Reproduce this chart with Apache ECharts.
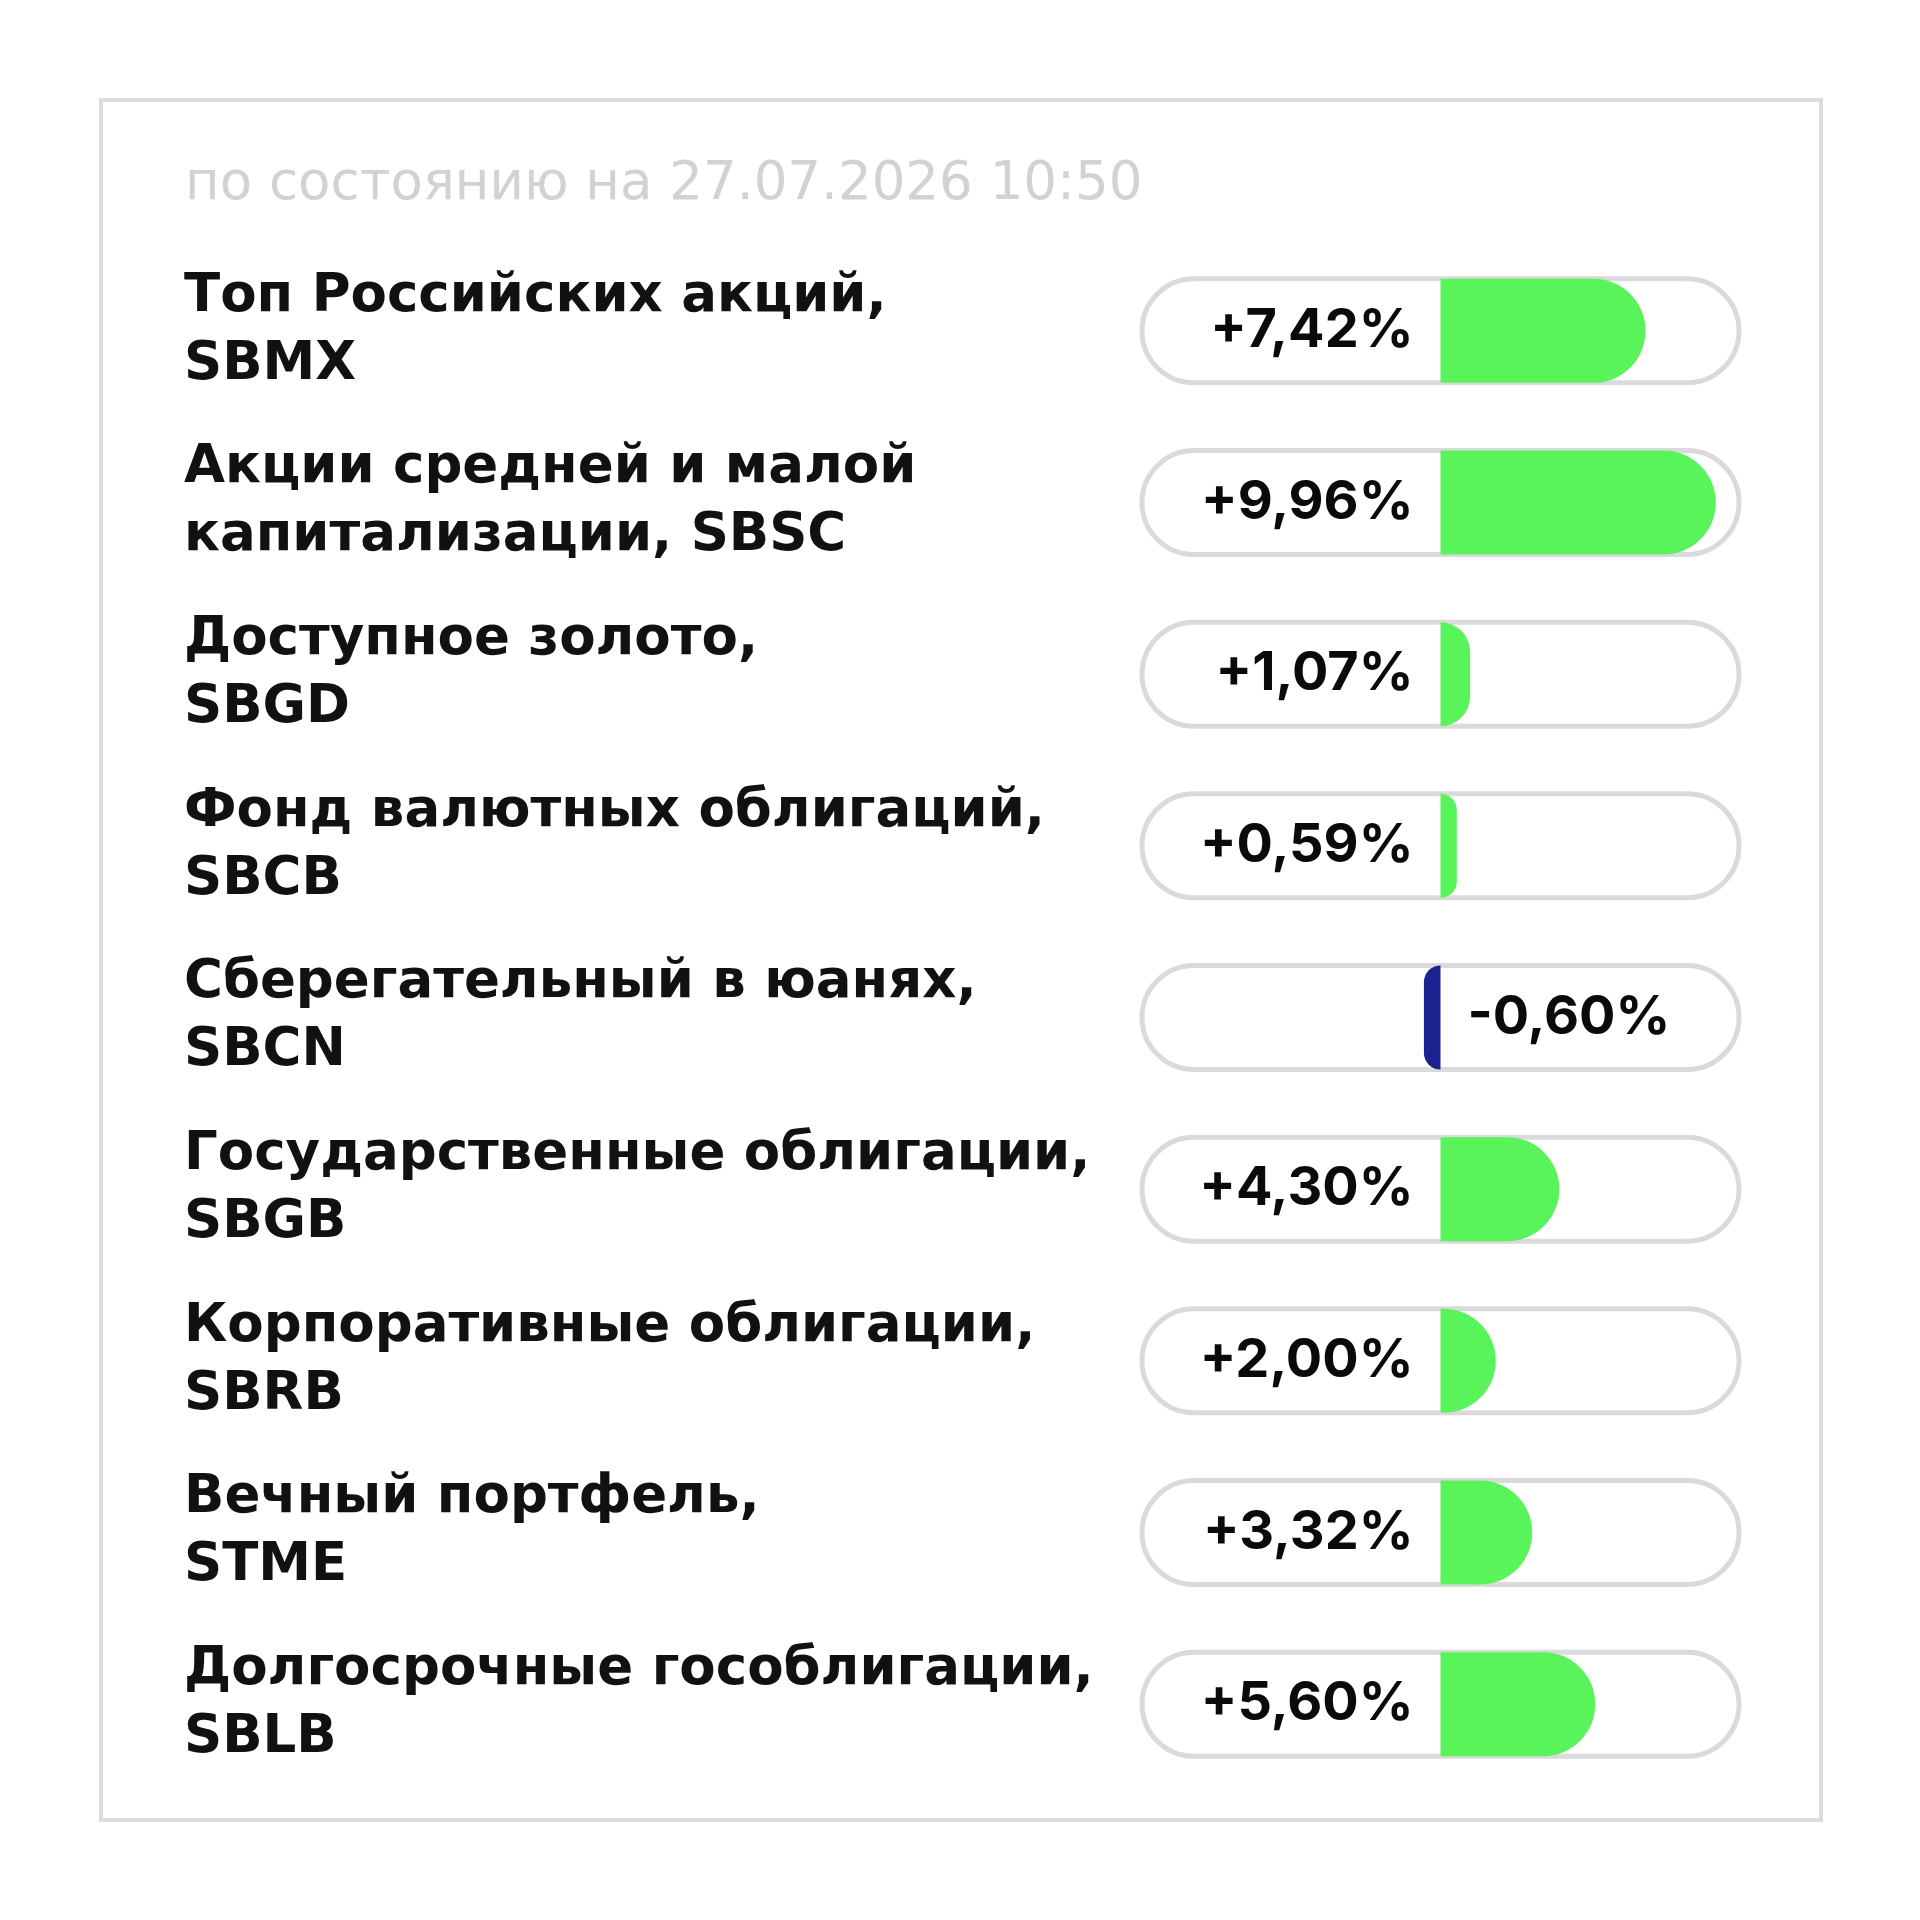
<!DOCTYPE html>
<html>
<head>
<meta charset="utf-8">
<script src="https://cdn.jsdelivr.net/npm/echarts@6/dist/echarts.min.js"></script>
<style>
  html, body { margin: 0; padding: 0; background: #fff; }
  #main { width: 1920px; height: 1920px; }
</style>
</head>
<body>
<div id="main"></div>
<script>
// фонды (подписи категорий) и доходность, %
var funds = [
  'Топ Российских акций,\nSBMX',
  'Акции средней и малой\nкапитализации, SBSC',
  'Доступное золото,\nSBGD',
  'Фонд валютных облигаций,\nSBCB',
  'Сберегательный в юанях,\nSBCN',
  'Государственные облигации,\nSBGB',
  'Корпоративные облигации,\nSBRB',
  'Вечный портфель,\nSTME',
  'Долгосрочные гособлигации,\nSBLB'
];
var returns = [7.42, 9.96, 1.07, 0.59, -0.60, 4.30, 2.00, 3.32, 5.60];
var subtitle = 'по состоянию на 27.07.2026 10:50';

var FONT = '"DejaVu Sans", sans-serif';
var NUM_FONT = 'Inter, "DejaVu Sans", sans-serif';
var GREEN = '#59f45a';
var NAVY = '#1a2290';

function fmt(v) {
  var s = Math.abs(v).toFixed(2).replace('.', ',') + '%';
  return (v < 0 ? '-' : '+') + s;
}

var barData = returns.map(function (v) {
  var neg = v < 0;
  return {
    value: v,
    itemStyle: {
      color: neg ? NAVY : GREEN,
      borderRadius: neg ? [52, 0, 0, 52] : [0, 52, 52, 0]
    },
    label: { position: neg ? 'right' : 'left' }
  };
});

var myChart = echarts.init(document.getElementById('main'));
myChart.setOption({
  backgroundColor: '#fff',
  animation: false,
  title: {
    text: subtitle,
    left: 180,
    top: 154,
    textStyle: { fontFamily: FONT, fontSize: 53, fontWeight: 'normal', color: '#d2d2d2' }
  },
  // рамка
  graphic: [{
    type: 'rect',
    shape: { x: 101, y: 100, width: 1720, height: 1720 },
    style: { fill: 'none', stroke: '#dcdcdc', lineWidth: 4 },
    silent: true
  }],
  grid: { left: 1142, right: 181, top: 245, bottom: 130 },
  xAxis: {
    type: 'value',
    min: -10.8,
    max: 10.8,
    show: false
  },
  yAxis: {
    type: 'category',
    data: funds,
    inverse: true,
    axisLine: { show: false },
    axisTick: { show: false },
    splitLine: { show: false },
    axisLabel: {
      align: 'left',
      margin: 958,
      fontFamily: FONT,
      fontSize: 53,
      fontWeight: 'bold',
      lineHeight: 68,
      color: '#111'
    }
  },
  series: [{
    type: 'bar',
    data: barData,
    barWidth: 104,
    showBackground: true,
    backgroundStyle: {
      color: '#fff',
      borderColor: '#dadada',
      borderWidth: 5,
      borderRadius: 54
    },
    label: {
      show: true,
      distance: 27,
      fontFamily: NUM_FONT,
      fontSize: 54,
      fontWeight: 'bold',
      color: '#0a0a0a',
      formatter: function (p) { return fmt(p.value); }
    }
  }]
});
</script>
</body>
</html>
